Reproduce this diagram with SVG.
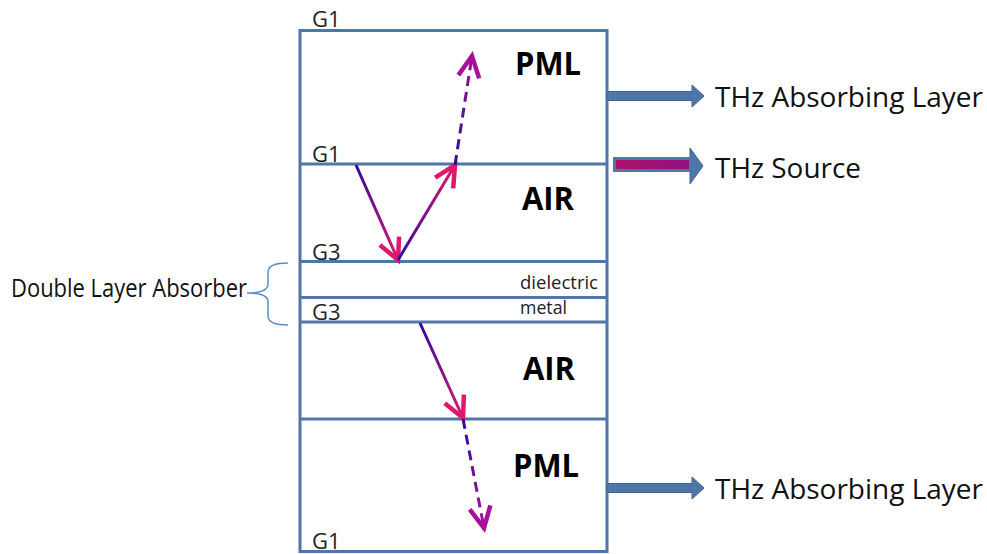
<svg xmlns="http://www.w3.org/2000/svg" width="987" height="554" viewBox="0 0 987 554">
<style>
.box{fill:none;stroke:#4f76a8;stroke-width:3}
.g{font-family:"Open Sans","Liberation Sans",sans-serif;font-size:22px;fill:#222}
.big{font-family:"Open Sans","Liberation Sans",sans-serif;font-weight:bold;font-size:33px;fill:#000}
.sm{font-family:"Open Sans","Liberation Sans",sans-serif;font-size:18px;fill:#222}
.lbl{font-family:"Open Sans","Liberation Sans",sans-serif;font-size:27px;fill:#111}
.ray{fill:none;stroke-width:3}
.blk{fill:#4f76a8;stroke:#3d6294;stroke-width:1}
</style>
<defs>
<linearGradient id="r1" gradientUnits="userSpaceOnUse" x1="356" y1="165" x2="398" y2="260"><stop offset="0" stop-color="#2a0e9c"/><stop offset="1" stop-color="#e0186c"/></linearGradient>
<linearGradient id="r2" gradientUnits="userSpaceOnUse" x1="398" y1="260" x2="455" y2="165"><stop offset="0" stop-color="#2a0e9c"/><stop offset="1" stop-color="#e0186c"/></linearGradient>
<linearGradient id="r3" gradientUnits="userSpaceOnUse" x1="455" y1="165" x2="472" y2="56"><stop offset="0" stop-color="#2a0e9c"/><stop offset="1" stop-color="#a0108e"/></linearGradient>
<linearGradient id="r4" gradientUnits="userSpaceOnUse" x1="420" y1="323" x2="463" y2="418"><stop offset="0" stop-color="#2a0e9c"/><stop offset="1" stop-color="#e0186c"/></linearGradient>
<linearGradient id="r5" gradientUnits="userSpaceOnUse" x1="463" y1="419" x2="484" y2="528"><stop offset="0" stop-color="#2a0e9c"/><stop offset="1" stop-color="#b0109a"/></linearGradient>
<linearGradient id="src" x1="0" y1="0" x2="1" y2="0"><stop offset="0" stop-color="#b0106a"/><stop offset="1" stop-color="#901080"/></linearGradient>
<marker id="mPink" markerUnits="userSpaceOnUse" markerWidth="30" markerHeight="30" refX="0" refY="0" viewBox="-16 -10 20 20" orient="auto" overflow="visible"><path d="M-14,-7 L0,0 L-14,7" fill="none" stroke="#e0186c" stroke-width="3" stroke-linejoin="miter"/></marker>
<marker id="mPurp" markerUnits="userSpaceOnUse" markerWidth="30" markerHeight="30" refX="0" refY="0" viewBox="-16 -10 20 20" orient="auto" overflow="visible"><path d="M-14,-7 L0,0 L-14,7" fill="none" stroke="#a8109a" stroke-width="3" stroke-linejoin="miter"/></marker>
</defs>

<g id="stack">
<rect class="box" x="300" y="30.5" width="307" height="521"/>
<line class="box" x1="300" y1="164" x2="607" y2="164"/>
<line class="box" x1="300" y1="261.5" x2="607" y2="261.5"/>
<line class="box" x1="300" y1="297.5" x2="607" y2="297.5"/>
<line class="box" x1="300" y1="322" x2="607" y2="322"/>
<line class="box" x1="300" y1="419" x2="607" y2="419"/>
</g>

<g id="labels">
<text class="g" x="312" y="27">G1</text>
<text class="g" x="312" y="162">G1</text>
<text class="g" x="312" y="260">G3</text>
<text class="g" x="312" y="320">G3</text>
<text class="g" x="312" y="549">G1</text>
<text class="big" x="515" y="75" textLength="66" lengthAdjust="spacingAndGlyphs">PML</text>
<text class="big" x="522" y="210" textLength="52" lengthAdjust="spacingAndGlyphs">AIR</text>
<text class="big" x="523" y="380" textLength="52" lengthAdjust="spacingAndGlyphs">AIR</text>
<text class="big" x="513" y="477" textLength="66" lengthAdjust="spacingAndGlyphs">PML</text>
<text class="sm" x="520" y="289" textLength="78" lengthAdjust="spacingAndGlyphs">dielectric</text>
<text class="sm" x="520" y="314" textLength="47" lengthAdjust="spacingAndGlyphs">metal</text>
</g>

<g id="connectors">
<line class="ray" stroke="url(#r1)" x1="356" y1="165" x2="398" y2="260" marker-end="url(#mPink)"/>
<line class="ray" stroke="url(#r2)" x1="398" y1="260" x2="455" y2="165" marker-end="url(#mPink)"/>
<line class="ray" stroke="url(#r3)" x1="455" y1="165" x2="472" y2="56" stroke-dasharray="10,6" marker-end="url(#mPurp)"/>
<line class="ray" stroke="url(#r4)" x1="420" y1="323" x2="463" y2="418" marker-end="url(#mPink)"/>
<line class="ray" stroke="url(#r5)" x1="463" y1="419" x2="484" y2="528" stroke-dasharray="10,6" marker-end="url(#mPurp)"/>
</g>

<g id="arrow-top">
<path class="blk" d="M607,91.5 L692,91.5 L692,85 L704,96 L692,107 L692,100.5 L607,100.5 Z"/>
<text class="lbl" x="715" y="107" textLength="268" lengthAdjust="spacingAndGlyphs">THz Absorbing Layer</text>
</g>
<g id="arrow-source">
<path d="M690,148 L703,166 L690,184 Z" fill="#4f76a8" stroke="#3d6294" stroke-width="1"/>
<rect x="614.5" y="158.5" width="76" height="12" fill="url(#src)" stroke="#4f76a8" stroke-width="3"/>
<text class="lbl" x="715" y="178" textLength="146" lengthAdjust="spacingAndGlyphs">THz Source</text>
</g>
<g id="arrow-bottom">
<path class="blk" d="M607,483.5 L692,483.5 L692,477 L704,488 L692,499 L692,492.5 L607,492.5 Z"/>
<text class="lbl" x="715" y="499" textLength="268" lengthAdjust="spacingAndGlyphs">THz Absorbing Layer</text>
</g>
<g id="double-layer">
<text class="lbl" x="11" y="297" textLength="236" lengthAdjust="spacingAndGlyphs" style="font-size:25px">Double Layer Absorber</text>
<path d="M288,263 Q268,263 268,272 L268,284 Q268,293 247,293 Q268,293 268,302 L268,316 Q268,325 288,325" fill="none" stroke="#5b8ec8" stroke-width="1.5"/>
</g>
</svg>
